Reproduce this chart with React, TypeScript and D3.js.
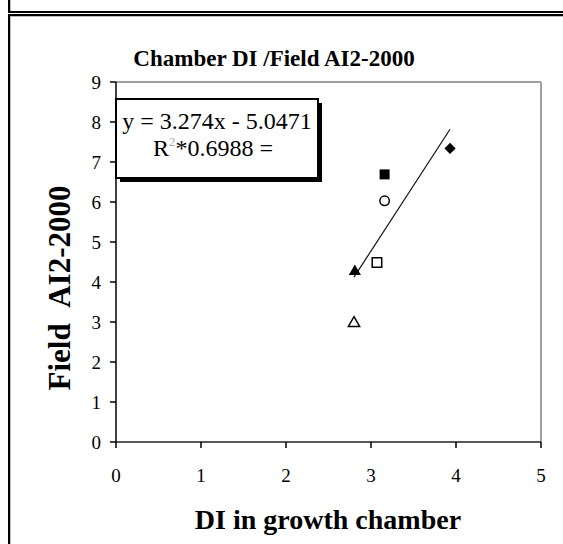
import React from 'react';
import * as d3 from 'd3';

const chartTitle = 'Chamber DI /Field AI2-2000';
const xTitle = 'DI in growth chamber';
const yTitle = 'Field\u00a0\u00a0AI2-2000';
const xTicks = [0, 1, 2, 3, 4, 5];
const yTicks = [0, 1, 2, 3, 4, 5, 6, 7, 8, 9];
const pointX = [3.93, 3.16, 3.16, 3.07, 2.81, 2.80];
const pointY = [7.34, 6.69, 6.03, 4.49, 4.26, 2.97];
const pointShape = ['diamondFilled', 'squareFilled', 'circleOpen', 'squareOpen', 'triangleFilled', 'triangleOpen'];
const trendSlope = 3.274;
const trendIntercept = -5.0471;
const eqLine1 = 'y = 3.274x - 5.0471';
const eqLine2a = 'R';
const eqLine2sup = '2';
const eqLine2b = '*0.6988 =';

const W = 563, H = 544;
const plot = { left: 116, right: 541, top: 82, bottom: 442 };

export default function App() {
  const x = d3.scaleLinear().domain([0, 5]).range([plot.left, plot.right]);
  const y = d3.scaleLinear().domain([0, 9]).range([plot.bottom, plot.top]);
  const serif = '"Liberation Serif", "Times New Roman", serif';

  const xMin = d3.min(pointX) as number;
  const xMax = d3.max(pointX) as number;
  const trendPts: [number, number][] = [xMin, xMax].map(v => [x(v), y(trendSlope * v + trendIntercept)]);
  const line = d3.line();

  const sym = (shape: string) => {
    const map: Record<string, [any, number]> = {
      diamondFilled: [d3.symbolDiamond2, 80],
      squareFilled: [d3.symbolSquare, 100],
      squareOpen: [d3.symbolSquare, 90],
      circleOpen: [d3.symbolCircle, 70],
      triangleFilled: [d3.symbolTriangle, 64],
      triangleOpen: [d3.symbolTriangle, 55],
    };
    const [t, s] = map[shape];
    return d3.symbol().type(t).size(s)() as string;
  };

  const box = { x1: 116, y1: 99, x2: 318, y2: 178 };
  const boxCx = (box.x1 + box.x2) / 2;

  return (
    <svg width={W} height={H} style={{ position: 'absolute', left: 0, top: 0, background: '#fff' }}>
      <rect x={0} y={0} width={W} height={H} fill="#fff" />
      {/* outer frames */}
      <line x1={9} y1={0} x2={9} y2={13} stroke="#000" strokeWidth={2} />
      <line x1={10.5} y1={0} x2={10.5} y2={11} stroke="#bbb" strokeWidth={1} />
      <line x1={8} y1={12} x2={W} y2={12} stroke="#000" strokeWidth={2} />
      <line x1={8} y1={15} x2={W} y2={15} stroke="#000" strokeWidth={2} />
      <line x1={10} y1={16.5} x2={W} y2={16.5} stroke="#bbb" strokeWidth={1} />
      <line x1={9} y1={14} x2={9} y2={H} stroke="#000" strokeWidth={2} />
      <line x1={10.5} y1={16} x2={10.5} y2={H} stroke="#bbb" strokeWidth={1} />

      {/* title */}
      <text x={274} y={66} textAnchor="middle" fontFamily={serif} fontWeight="bold" fontSize={23}>{chartTitle}</text>

      {/* plot frame */}
      <line x1={plot.left} y1={plot.top} x2={plot.right} y2={plot.top} stroke="#a0a0a0" strokeWidth={2} />
      <line x1={plot.right} y1={plot.top} x2={plot.right} y2={plot.bottom} stroke="#a0a0a0" strokeWidth={2} />
      <line x1={plot.left} y1={plot.top} x2={plot.left} y2={plot.bottom} stroke="#000" strokeWidth={1.5} />
      <line x1={plot.left} y1={plot.bottom} x2={plot.right} y2={plot.bottom} stroke="#222" strokeWidth={1.5} />

      {/* y ticks */}
      {yTicks.map(t => (
        <g key={'y' + t}>
          <line x1={plot.left - 6} x2={plot.left} y1={y(t)} y2={y(t)} stroke="#000" strokeWidth={1.5} />
          <text x={101} y={y(t)} dy="0.35em" textAnchor="end" fontFamily={serif} fontSize={19}>{t}</text>
        </g>
      ))}
      {/* x ticks */}
      {xTicks.map(t => (
        <g key={'x' + t}>
          <line x1={x(t)} x2={x(t)} y1={plot.bottom} y2={plot.bottom + 6} stroke="#000" strokeWidth={1.5} />
          <text x={x(t)} y={482} textAnchor="middle" fontFamily={serif} fontSize={19}>{t}</text>
        </g>
      ))}

      {/* axis titles */}
      <text x={328} y={529} textAnchor="middle" fontFamily={serif} fontWeight="bold" fontSize={28}>{xTitle}</text>
      <text transform={`translate(70, ${288}) rotate(-90)`} textAnchor="middle" fontFamily={serif} fontWeight="bold" fontSize={31}>{yTitle}</text>

      {/* trend line */}
      <path d={line(trendPts) as string} stroke="#111" strokeWidth={1.2} fill="none" />

      {/* points */}
      {pointX.map((v, i) => {
        const shape = pointShape[i];
        const open = shape.endsWith('Open');
        return (
          <path key={'p' + i} d={sym(shape)} transform={`translate(${x(v)}, ${y(pointY[i])})`}
            fill={open ? '#fff' : '#000'} stroke="#000" strokeWidth={open ? 1.5 : 0} />
        );
      })}

      {/* equation box */}
      <rect x={box.x1 + 4} y={box.y1 + 4} width={box.x2 - box.x1} height={box.y2 - box.y1} fill="#000" />
      <rect x={box.x1} y={box.y1} width={box.x2 - box.x1} height={box.y2 - box.y1} fill="#fff" stroke="#000" strokeWidth={2} />
      <text x={boxCx} y={129} textAnchor="middle" fontFamily={serif} fontSize={24}>{eqLine1}</text>
      <text x={boxCx - 4} y={156} textAnchor="middle" fontFamily={serif} fontSize={24}>
        {eqLine2a}
        <tspan fontSize={13} dy={-10} fill="#aaa">{eqLine2sup}</tspan>
        <tspan dy={10}>{eqLine2b}</tspan>
      </text>
    </svg>
  );
}
